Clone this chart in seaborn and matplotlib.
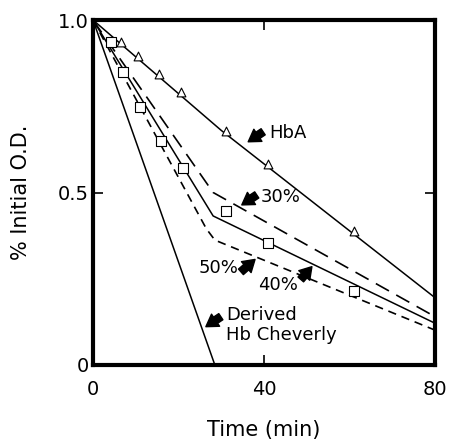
import matplotlib
matplotlib.use("Agg")
import matplotlib.pyplot as plt
import seaborn as sns
import pandas as pd

# ---- data ----
hba_pts_t = [6.5, 10.5, 15.5, 20.5, 31.0, 41.0, 61.0]
hba_pts_od = [0.937, 0.897, 0.843, 0.792, 0.679, 0.583, 0.389]
hba_line_t = [0, 30, 80]
hba_line_od = [1.0, 0.68, 0.195]

mix_pts_t = [4.2, 7.0, 11.0, 15.8, 21.0, 31.0, 41.0, 61.0]
mix_pts_od = [0.937, 0.850, 0.747, 0.649, 0.572, 0.446, 0.354, 0.214]

p30_t = [0, 28.1, 80]
p30_od = [1.0, 0.50, 0.14]
p40_t = [0, 28.1, 80]
p40_od = [1.0, 0.432, 0.121]
p50_t = [0, 26.5, 28.5, 80]
p50_od = [1.0, 0.395, 0.362, 0.101]
cheverly_t = [0, 28.5]
cheverly_od = [1.0, 0.0]

x_ticks = [0, 40, 80]
y_ticks = [0, 0.5, 1.0]
y_ticklabels = ["0", "0.5", "1.0"]

sns.set_style("ticks")
plt.rcParams['font.family'] = ['DejaVu Sans']
plt.rcParams.update({"text.color": "black", "axes.labelcolor": "black",
                     "xtick.color": "black", "ytick.color": "black"})

fig = plt.figure(figsize=(4.5, 4.4), dpi=100)
ax = fig.add_axes([0.2067, 0.1705, 0.76, 0.784])

lw = 1.1
sns.lineplot(x=hba_line_t, y=hba_line_od, ax=ax, color="black", lw=lw)
sns.lineplot(x=p40_t, y=p40_od, ax=ax, color="black", lw=lw)
sns.lineplot(x=cheverly_t, y=cheverly_od, ax=ax, color="black", lw=lw)
sns.lineplot(x=p30_t, y=p30_od, ax=ax, color="black", lw=1.2)
ax.lines[-1].set_dashes([9, 5])
sns.lineplot(x=p50_t, y=p50_od, ax=ax, color="black", lw=1.2)
ax.lines[-1].set_dashes([5, 3.5])

sns.scatterplot(x=hba_pts_t, y=hba_pts_od, ax=ax, marker="^", s=40,
                facecolor="white", edgecolor="black", linewidth=0.8, zorder=5)
sns.scatterplot(x=mix_pts_t, y=mix_pts_od, ax=ax, marker="s", s=60,
                facecolor="white", edgecolor="black", linewidth=0.8, zorder=5)

ax.set_xlim(0, 80)
ax.set_ylim(0, 1.0)
ax.set_xticks(x_ticks)
ax.set_yticks(y_ticks)
ax.set_yticklabels(y_ticklabels)
ax.tick_params(direction="in", length=7, width=1.2, labelsize=14, pad=3,
               top=True, right=True, colors="black")
ax.tick_params(axis="x", pad=11)
for s in ax.spines.values():
    s.set_linewidth(3.0)
    s.set_color("black")

ax.set_xlabel("Time (min)", fontsize=15, color="black")
ax.xaxis.set_label_coords(0.5, -0.16)
ax.set_ylabel("% Initial O.D.", fontsize=15, color="black")
ax.yaxis.set_label_coords(-0.18, 0.5)

arrow = dict(arrowstyle="simple,head_width=0.75,head_length=0.6,tail_width=0.38",
             color="black", mutation_scale=14, shrinkA=0, shrinkB=0)
fs = 13
# HbA
ax.annotate("", xy=(36.3, 0.647), xytext=(39.8, 0.676), arrowprops=arrow)
ax.text(41.2, 0.672, "HbA", fontsize=fs, va="center", ha="left", color="black")
# 30%
ax.annotate("", xy=(34.8, 0.464), xytext=(38.3, 0.493), arrowprops=arrow)
ax.text(39.3, 0.488, "30%", fontsize=fs, va="center", ha="left", color="black")
# 50%
ax.annotate("", xy=(37.9, 0.306), xytext=(34.6, 0.27), arrowprops=arrow)
ax.text(34.1, 0.28, "50%", fontsize=fs, va="center", ha="right", color="black")
# 40%
ax.annotate("", xy=(51.2, 0.285), xytext=(48.6, 0.248), arrowprops=arrow)
ax.text(38.5, 0.232, "40%", fontsize=fs, va="center", ha="left", color="black")
# Derived Hb Cheverly
ax.annotate("", xy=(26.4, 0.111), xytext=(29.9, 0.14), arrowprops=arrow)
ax.text(31.2, 0.145, "Derived", fontsize=fs, va="center", ha="left", color="black")
ax.text(31.2, 0.087, "Hb Cheverly", fontsize=fs, va="center", ha="left", color="black")

fig.savefig("out.png", dpi=100)
